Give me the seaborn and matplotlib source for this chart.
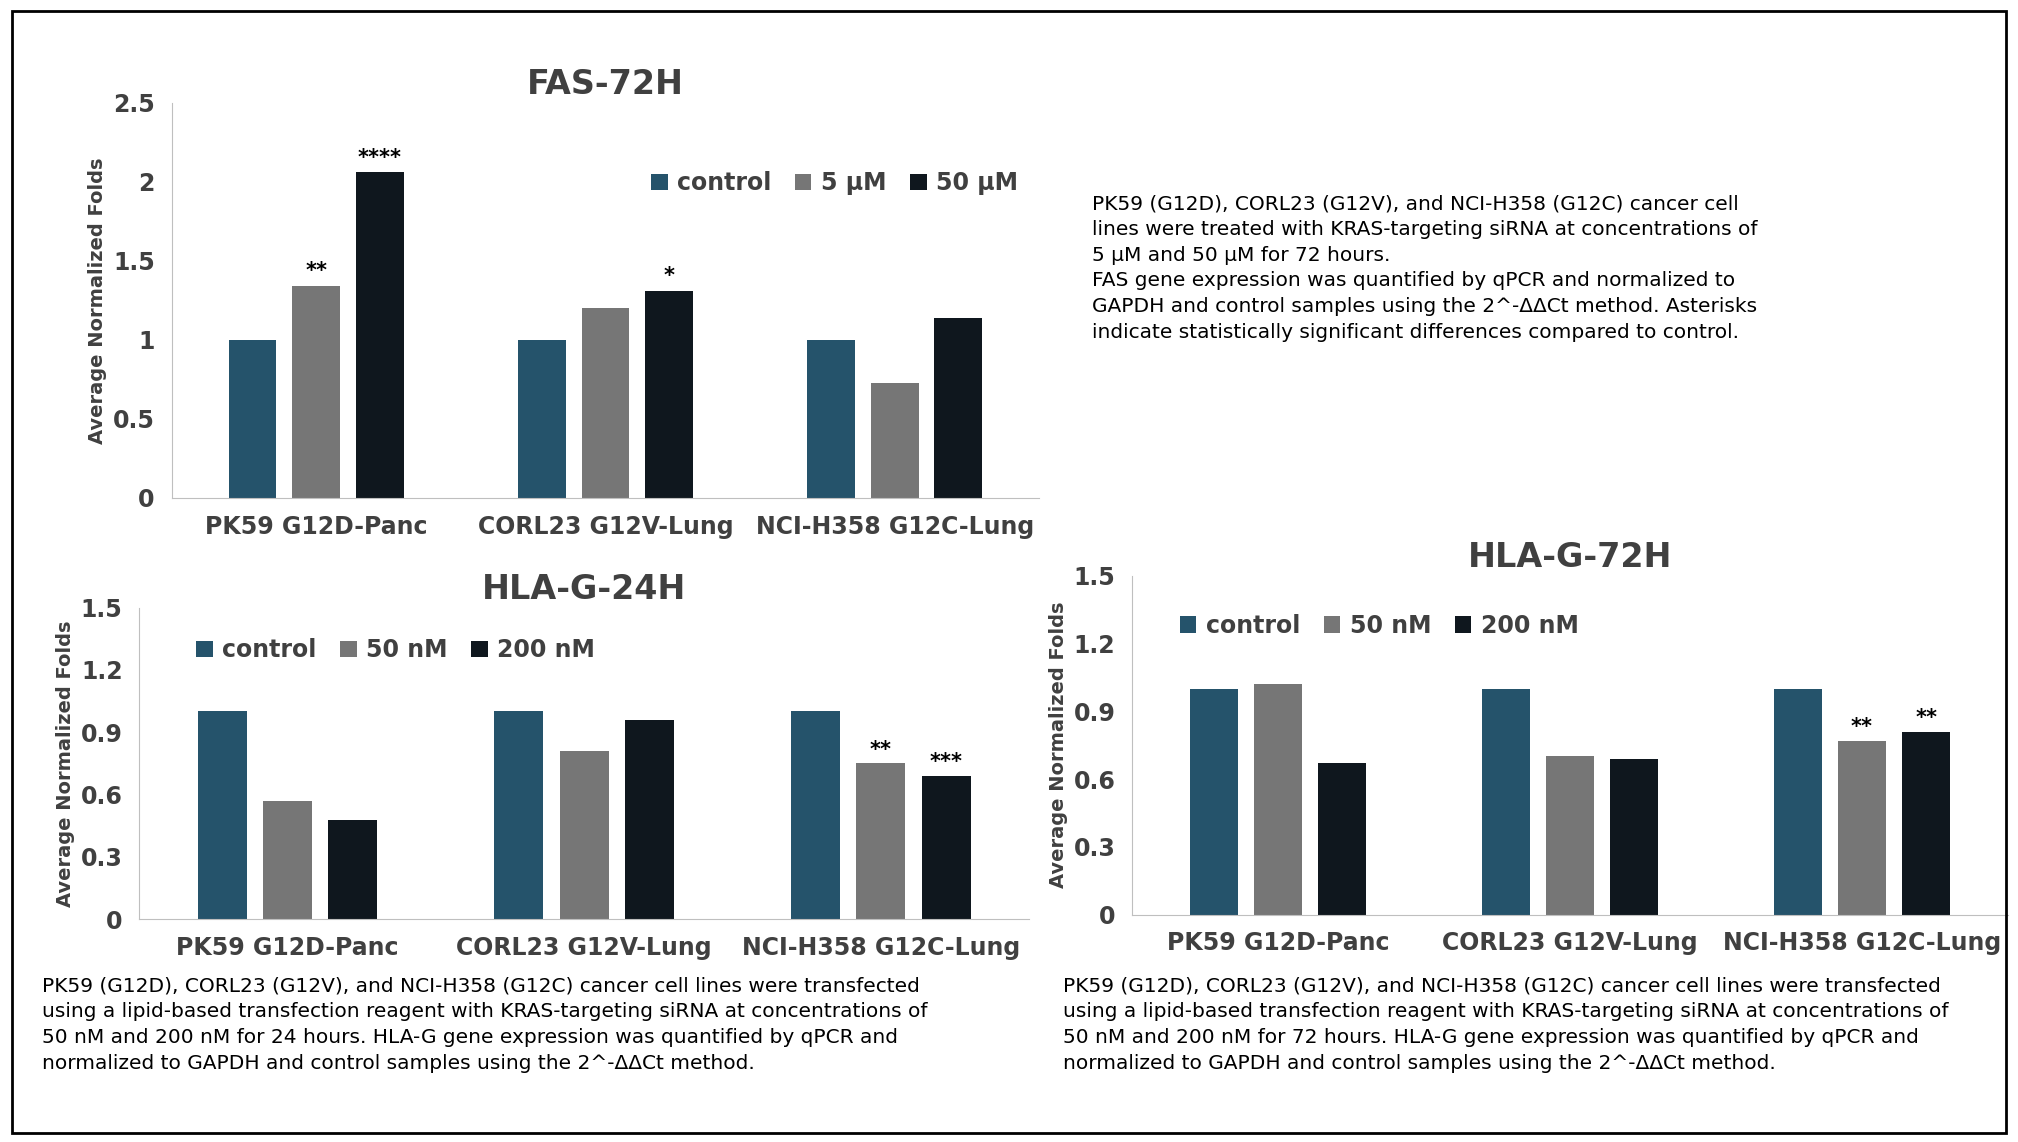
import numpy as np
import pandas as pd
import seaborn as sb
import matplotlib.pyplot as plt
from matplotlib.patches import Rectangle

# data
cell_lines = ["PK59 G12D-Panc", "CORL23 G12V-Lung", "NCI-H358 G12C-Lung"]

fas_groups = ["control", "5 μM", "50 μM"]
fas_control = [1.0, 1.0, 1.0]
fas_5um = [1.34, 1.20, 0.73]
fas_50um = [2.06, 1.31, 1.14]
fas_stars = [["", "**", "****"], ["", "", "*"], ["", "", ""]]

hla_groups = ["control", "50 nM", "200 nM"]
hla24_control = [1.0, 1.0, 1.0]
hla24_50nm = [0.57, 0.81, 0.75]
hla24_200nm = [0.48, 0.96, 0.69]
hla24_stars = [["", "", ""], ["", "", ""], ["", "**", "***"]]

hla72_control = [1.0, 1.0, 1.0]
hla72_50nm = [1.02, 0.70, 0.77]
hla72_200nm = [0.67, 0.69, 0.81]
hla72_stars = [["", "", ""], ["", "", ""], ["", "**", "**"]]

colours = ["#1a5676", "#767676", "#0d1720"]

plt.rcParams['font.family'] = ['DejaVu Sans']
fig = plt.figure(figsize=(20.18, 11.42), dpi=100)
fig.patches.append(Rectangle((0.006, 0.008), 0.988, 0.982, transform=fig.transFigure,
                             fill=False, edgecolor="black", linewidth=2))


def make_df(groups, series):
    rows = []
    for g, vals in zip(groups, series):
        for c, v in zip(cell_lines, vals):
            rows.append({"cell": c, "group": g, "value": v})
    return pd.DataFrame(rows)


def draw(ax, groups, series, stars, title, ymax, step, legend_pos):
    df = make_df(groups, series)
    sb.barplot(data=df, x="cell", y="value", hue="group", palette=colours,
               width=0.66, gap=0.25, ax=ax, legend=True)
    # stars above the bars
    for gi, cont in enumerate(ax.containers):
        for ci, bar in enumerate(cont):
            s = stars[ci][gi]
            if s:
                ax.text(bar.get_x() + bar.get_width() / 2, bar.get_height() + ymax * 0.012, s,
                        ha="center", va="bottom", fontsize=15, fontweight="bold")
    ax.set_ylim(0, ymax)
    ax.set_yticks(np.arange(0, ymax + 0.001, step))
    ax.yaxis.set_major_formatter(plt.FuncFormatter(lambda v, p: f"{v:g}"))
    ax.set_xlabel("")
    ax.set_ylabel("Average Normalized Folds", fontsize=14, fontweight="bold", color="#404040")
    ax.set_title(title, fontsize=24, fontweight="bold", color="#404040")
    for sp in ["top", "right"]:
        ax.spines[sp].set_visible(False)
    for sp in ["left", "bottom"]:
        ax.spines[sp].set_color("#bfbfbf")
    ax.tick_params(axis="both", length=0, labelsize=17, labelcolor="#404040", pad=12)
    for lab in ax.get_xticklabels() + ax.get_yticklabels():
        lab.set_fontweight("bold")
    ax.legend(loc=legend_pos[0], bbox_to_anchor=legend_pos[1], ncol=3, frameon=False,
              prop={"size": 17, "weight": "bold"}, labelcolor="#404040",
              handlelength=0.7, handleheight=0.7, handletextpad=0.4, columnspacing=1.0)


ax1 = fig.add_axes([0.085, 0.564, 0.43, 0.346])
draw(ax1, fas_groups, [fas_control, fas_5um, fas_50um], fas_stars, "FAS-72H", 2.5, 0.5,
     ("upper right", (1.0, 0.88)))

ax2 = fig.add_axes([0.069, 0.195, 0.441, 0.273])
draw(ax2, hla_groups, [hla24_control, hla24_50nm, hla24_200nm], hla24_stars, "HLA-G-24H", 1.5, 0.3,
     ("upper left", (0.04, 0.97)))

ax3 = fig.add_axes([0.561, 0.199, 0.434, 0.297])
draw(ax3, hla_groups, [hla72_control, hla72_50nm, hla72_200nm], hla72_stars, "HLA-G-72H", 1.5, 0.3,
     ("upper left", (0.03, 0.95)))

fig.text(0.541, 0.83,
         "PK59 (G12D), CORL23 (G12V), and NCI-H358 (G12C) cancer cell\n"
         "lines were treated with KRAS-targeting siRNA at concentrations of\n"
         "5 μM and 50 μM for 72 hours.\n"
         "FAS gene expression was quantified by qPCR and normalized to\n"
         "GAPDH and control samples using the 2^-ΔΔCt method. Asterisks\n"
         "indicate statistically significant differences compared to control.",
         fontsize=14.5, va="top", ha="left", linespacing=1.45)

fig.text(0.021, 0.145,
         "PK59 (G12D), CORL23 (G12V), and NCI-H358 (G12C) cancer cell lines were transfected\n"
         "using a lipid-based transfection reagent with KRAS-targeting siRNA at concentrations of\n"
         "50 nM and 200 nM for 24 hours. HLA-G gene expression was quantified by qPCR and\n"
         "normalized to GAPDH and control samples using the 2^-ΔΔCt method.",
         fontsize=14.5, va="top", ha="left", linespacing=1.45)

fig.text(0.527, 0.145,
         "PK59 (G12D), CORL23 (G12V), and NCI-H358 (G12C) cancer cell lines were transfected\n"
         "using a lipid-based transfection reagent with KRAS-targeting siRNA at concentrations of\n"
         "50 nM and 200 nM for 72 hours. HLA-G gene expression was quantified by qPCR and\n"
         "normalized to GAPDH and control samples using the 2^-ΔΔCt method.",
         fontsize=14.5, va="top", ha="left", linespacing=1.45)

fig.savefig("out.png", dpi=100)
